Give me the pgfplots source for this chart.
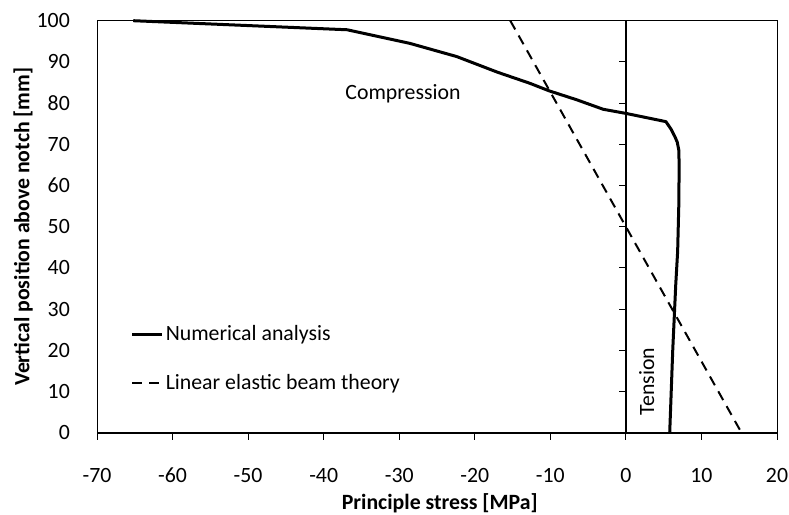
\documentclass[border=0pt]{standalone}
\usepackage{pgfplots}
\pgfplotsset{compat=1.18}
\usepackage{fontspec}
\setmainfont{Carlito}
\newcommand{\ff}{\fontsize{21.8bp}{26bp}\selectfont}
\begin{document}
\ff
\begin{tikzpicture}
\begin{axis}[name=ax, width=680bp, height=412bp, scale only axis,
  xmin=-70, xmax=20, ymin=0, ymax=100,
  xtick={-70,-60,...,20}, ytick={0,10,...,100},
  xtick pos=left, ytick pos=left,
  tick align=outside, major tick length=7bp,
  ytick style={draw=none},
  xtick style={black, line width=0.9bp},
  axis line style={black, line width=0.9bp},
  /pgf/number format/assume math mode=true,
  ticklabel style={font=\ff},
  xticklabel style={anchor=center, inner sep=0pt, yshift=-36bp},
  yticklabel style={anchor=east, inner sep=0pt, xshift=-20bp},
  xlabel={\textbf{Principle stress [MPa]}},
  ylabel={\textbf{Vertical position above notch [mm]}},
  xlabel style={at={(axis description cs:0.504,-0.171)}, anchor=center, inner sep=0pt, font=\ff},
  ylabel style={at={(axis description cs:-0.1088,0.5)}, anchor=center, inner sep=0pt, font=\ff},
  clip=false,
  legend cell align=left,
  legend style={draw=none, fill=none, at={(axis description cs:0.045,0.27)}, anchor=north west,
    font=\ff, row sep=26bp,
    nodes={inner xsep=2bp}},
  legend image code/.code={\draw[#1] (0bp,0bp) -- (30bp,0bp);},
]
\addplot[black, line width=3bp, line join=round] coordinates {
(5.8,0) (6.0,10) (6.2,20) (6.4,28) (6.6,36) (6.85,44) (7.0,55) (7.05,65)
(7.0,68.6) (6.8,70.5) (6.5,71.8) (6.0,73.6) (5.3,75.5) (0,77.5) (-3,78.5)
(-6.5,80.8) (-10.2,83.0) (-12.7,84.8) (-17,87.5) (-22.4,91.3) (-28.6,94.5)
(-36.9,97.8) (-65.2,100)
};
\addlegendentry{Numerical analysis}
\addplot[black, line width=2bp, dash pattern=on 10bp off 7bp] coordinates {
(-15.3,100) (0,50) (15.3,0)
};
\addlegendentry{Linear elastic beam theory}
\draw[black, line width=2.4bp] (axis cs:-70,0) -- (axis cs:20,0);
\draw[black, line width=2.2bp] (axis cs:0,0) -- (axis cs:0,100);
\pgfplotsinvokeforeach{10,20,...,100}{\draw[black, line width=0.9bp] (axis cs:0,#1) -- ++(-7bp,0pt);}
\node[anchor=center] at (axis cs:-29.5,82.2) {Compression};
\node[anchor=center, rotate=90] at (axis cs:2.75,12.4) {Tension};
\end{axis}
\path ([shift={(-97bp,-82bp)}]ax.south west) rectangle ([shift={(12bp,20.7bp)}]ax.north east);
\end{tikzpicture}
\end{document}
